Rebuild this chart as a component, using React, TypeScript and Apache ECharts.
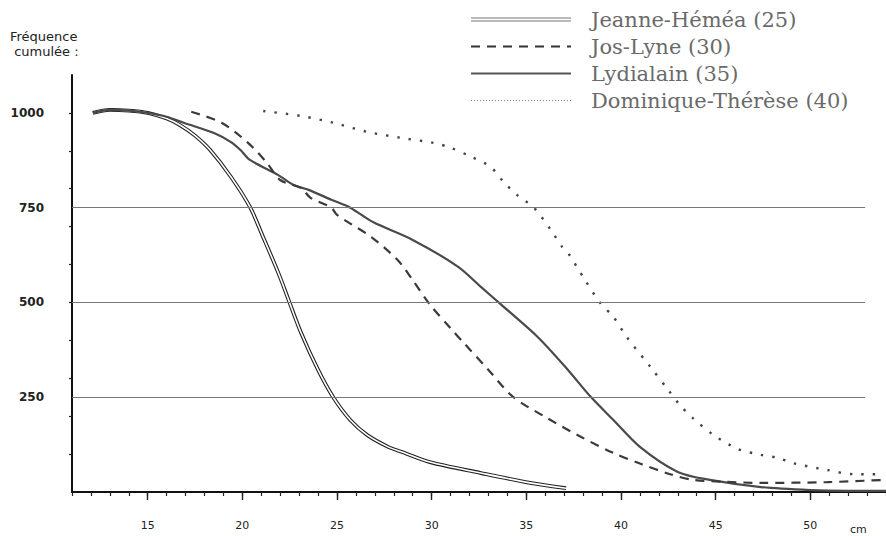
import React, { useEffect, useRef } from "react";
import * as echarts from "echarts";

const X_MIN = 11;
const X_MAX = 54;
const Y_MAX = 1100;
const X_LABELS = [15, 20, 25, 30, 35, 40, 45, 50];
const Y_LABELS = [250, 500, 750, 1000];
const Y_TICKS = [100, 200, 300, 400, 500, 600, 700, 800, 900, 1000];
const GRID_VALUES = [250, 500, 750];
const GRID_END = 52.9;

const NAMES = [
  "Jeanne-Héméa (25)",
  "Jos-Lyne (30)",
  "Lydialain (35)",
  "Dominique-Thérèse (40)",
];

const jeanneX = [12.1, 13, 14, 15, 16, 16.7, 17.5, 18.3, 19.4, 20.4, 21.1, 21.9, 22.4, 23.1, 24.0, 24.8, 25.7, 26.6, 27.7, 28.4, 29.9, 32.6, 35.2, 37.1];
const jeanneY = [1000, 1008, 1006, 1000, 985, 968, 940, 902, 831, 752, 672, 578, 512, 420, 322, 250, 190, 150, 119, 106, 79, 50, 24, 10];

const josX = [17.3, 18.9, 20.3, 21.3, 22.0, 23.1, 23.6, 24.7, 25.0, 26.8, 28.2, 29.0, 29.9, 31.0, 31.7, 33.0, 34.3, 36.1, 37.9, 39.6, 41.0, 42.6, 43.8, 45.5, 47.4, 50.9, 53.9];
const josY = [1003, 974, 921, 868, 823, 802, 776, 750, 731, 673, 612, 559, 495, 432, 393, 322, 251, 195, 145, 103, 75, 47, 32, 27, 24, 26, 32];

const lydX = [12.1, 13, 14, 15, 16, 16.9, 18.5, 19.4, 19.9, 20.4, 21.9, 22.7, 23.5, 24.7, 25.7, 26.9, 29.0, 31.4, 32.6, 33.7, 35.6, 37.2, 38.4, 39.6, 41.0, 43.0, 44.7, 47.4, 50, 52, 54];
const lydY = [1000, 1008, 1006, 1000, 990, 974, 947, 923, 902, 876, 836, 810, 797, 771, 750, 712, 665, 594, 541, 493, 409, 322, 251, 190, 119, 53, 32, 13, 5, 3, 3];

const domX = [21.1, 23.1, 24.8, 26.6, 28.4, 30.1, 31.0, 32.1, 33.1, 33.8, 34.5, 35.4, 36.3, 36.9, 37.2, 38.1, 38.9, 39.6, 40.3, 41.6, 42.5, 43.1, 43.8, 44.9, 46.2, 47.4, 48.3, 49.1, 50.9, 52.3, 53.9];
const domY = [1005, 992, 974, 950, 934, 921, 908, 884, 858, 818, 784, 750, 691, 646, 631, 559, 499, 462, 409, 327, 269, 230, 195, 150, 113, 98, 90, 76, 58, 47, 47];

const pairs = (xs: number[], ys: number[]) => xs.map((x, i) => [x, ys[i]]);

export default function App() {
  const ref = useRef<HTMLDivElement>(null);
  useEffect(() => {
    if (!ref.current) return;
    const chart = echarts.init(ref.current, undefined, { renderer: "svg" });
    const labelFont = { fontFamily: "DejaVu Sans", color: "#222" };
    chart.setOption({
      animation: false,
      backgroundColor: "#fff",
      grid: { left: 72, right: 0, top: 75, bottom: 44 },
      legend: {
        orient: "vertical",
        left: 465,
        top: 4,
        itemWidth: 100,
        itemHeight: 4,
        itemGap: 6,
        selectedMode: false,
        itemStyle: { opacity: 0 },
        textStyle: {
          fontFamily: "DejaVu Serif",
          fontSize: 21,
          lineHeight: 21,
          color: "#6a6a6a",
          padding: [0, 0, 0, 15],
        },
        data: [
          {
            name: NAMES[0],
            icon: "path://M0,0H100V1H0Z M0,3H100V4H0Z",
            itemStyle: { opacity: 1, color: "#777" },
          },
          { name: NAMES[1], lineStyle: { color: "#333", width: 2, type: [9, 7] } },
          { name: NAMES[2], lineStyle: { color: "#555", width: 2, type: "solid" } },
          { name: NAMES[3], lineStyle: { color: "#888", width: 1, type: [1, 2] } },
        ],
      },
      xAxis: [
        {
          type: "value",
          min: X_MIN,
          max: X_MAX,
          interval: 1,
          position: "bottom",
          axisLine: { show: true, onZero: false, lineStyle: { color: "#111", width: 2 } },
          axisTick: { show: true, length: 4, lineStyle: { color: "#222", width: 1.2 } },
          splitLine: { show: false },
          axisLabel: {
            customValues: X_LABELS,
            margin: 28,
            fontSize: 11,
            formatter: (v: number) => String(v),
            ...labelFont,
          },
        },
        {
          type: "value",
          min: X_MIN,
          max: X_MAX,
          position: "bottom",
          axisLine: { show: false },
          axisTick: { show: true, customValues: X_LABELS, length: 8, lineStyle: { color: "#222", width: 1.4 } },
          axisLabel: { show: false },
          splitLine: { show: false },
        },
      ],
      yAxis: {
        type: "value",
        min: 0,
        max: Y_MAX,
        interval: 100,
        axisLine: { show: true, lineStyle: { color: "#111", width: 2 } },
        axisTick: { show: true, customValues: Y_TICKS, length: 3, lineStyle: { color: "#222", width: 1.2 } },
        splitLine: { show: false },
        axisLabel: {
          customValues: Y_LABELS,
          margin: 28,
          fontSize: 12,
          fontWeight: "bold",
          padding: [7, 0, 0, 0],
          formatter: (v: number) => String(v),
          ...labelFont,
        },
      },
      graphic: [
        {
          type: "text",
          left: 10,
          top: 29,
          style: {
            text: "Fréquence\n cumulée :",
            fontFamily: "DejaVu Sans",
            fontSize: 13,
            lineHeight: 15,
            fill: "#222",
          },
        },
        {
          type: "text",
          left: 850,
          top: 524,
          style: { text: "cm", fontFamily: "DejaVu Sans", fontSize: 11, fill: "#222" },
        },
      ],
      series: [
        {
          name: NAMES[0],
          type: "line",
          data: pairs(jeanneX, jeanneY),
          smooth: 0.3,
          symbol: "none",
          lineStyle: { color: "#222", width: 3.8 },
          itemStyle: { color: "#222" },
          markLine: {
            silent: true,
            symbol: ["none", "none"],
            label: { show: false },
            lineStyle: { color: "#777", width: 1, type: "solid" },
            data: GRID_VALUES.map((v) => [{ coord: [X_MIN, v] }, { coord: [GRID_END, v] }]),
          },
        },
        {
          name: "jeanne-inner",
          type: "line",
          data: pairs(jeanneX, jeanneY),
          smooth: 0.3,
          symbol: "none",
          lineStyle: { color: "#fff", width: 1.6 },
          itemStyle: { color: "#fff" },
        },
        {
          name: NAMES[2],
          type: "line",
          data: pairs(lydX, lydY),
          smooth: 0.3,
          symbol: "none",
          lineStyle: { color: "#4a4a4a", width: 2.2 },
          itemStyle: { color: "#4a4a4a" },
        },
        {
          name: NAMES[1],
          type: "line",
          data: pairs(josX, josY),
          smooth: 0.3,
          symbol: "none",
          lineStyle: { color: "#3a3a3a", width: 2.2, type: [9, 7] },
          itemStyle: { color: "#3a3a3a" },
        },
        {
          name: NAMES[3],
          type: "line",
          data: pairs(domX, domY),
          smooth: 0.3,
          symbol: "none",
          lineStyle: { color: "#444", width: 2.4, type: [2.4, 9] },
          itemStyle: { color: "#444" },
        },
      ],
    });
    return () => chart.dispose();
  }, []);
  return <div ref={ref} style={{ width: 886, height: 536, position: "fixed", left: 0, top: 0 }} />;
}
